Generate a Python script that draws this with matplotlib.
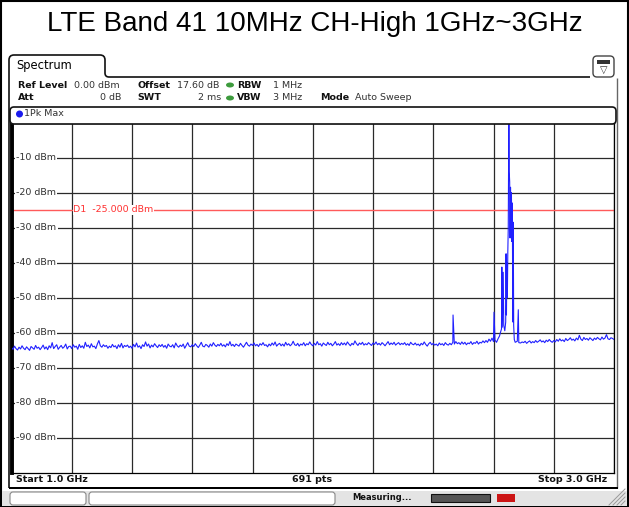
import numpy as np
import matplotlib
matplotlib.use("Agg")
import matplotlib.pyplot as plt
from matplotlib.patches import FancyBboxPatch, Rectangle, Ellipse, PathPatch
from matplotlib.path import Path
from matplotlib.transforms import Affine2D

# sweep settings shown on the analyzer
start_ghz = 1.0
stop_ghz = 3.0
display_line = -25.0
y_ticks = [-10, -20, -30, -40, -50, -60, -70, -80, -90]
x_grid = [1.0, 1.2, 1.4, 1.6, 1.8, 2.0, 2.2, 2.4, 2.6, 2.8, 3.0]

# noise floor, one value every 5 MHz from 1.0 to 3.0 GHz
noise_dbm = [
    -64.3, -64.8, -63.9, -64.6, -65.0, -64.2, -64.7, -63.8, -64.5, -64.9, -64.1, -64.6, -65.1, -64.0, -64.4, -64.8, -63.7, -64.5, -64.2, -64.9,
    -64.3, -63.6, -64.7, -64.1, -64.9, -63.8, -64.4, -62.9, -64.6, -64.0, -63.5, -64.8, -64.2, -63.7, -64.5, -64.1, -63.3, -64.7, -64.0, -63.9,
    -64.6, -63.5, -64.2, -63.9, -64.8, -63.4, -64.3, -63.8, -64.5, -62.8, -64.0, -63.6, -64.4, -63.2, -64.1, -63.9, -64.6, -63.3, -62.3, -63.8,
    -64.2, -63.5, -64.0, -63.7, -64.5, -63.9, -64.3, -63.4, -64.1, -63.8, -64.6, -63.5, -64.2, -63.1, -64.4, -63.7, -64.0, -63.6, -64.3, -63.9,
    -64.5, -63.4, -64.1, -63.0, -64.2, -63.8, -64.6, -63.5, -64.0, -62.7, -63.9, -63.3, -64.4, -63.6, -64.1, -63.2, -63.8, -64.3, -63.5, -64.0,
    -63.4, -64.2, -63.7, -64.5, -63.3, -63.9, -64.1, -63.5, -64.4, -63.0, -63.8, -64.2, -63.6, -64.0, -63.3, -64.5, -63.7, -62.9, -63.9, -64.1,
    -63.5, -64.0, -63.2, -63.8, -64.3, -63.6, -62.8, -63.9, -64.1, -63.4, -63.7, -64.2, -63.3, -63.9, -62.9, -63.6, -64.0, -63.4, -63.8, -63.1,
    -63.9, -63.5, -64.1, -63.2, -63.7, -62.6, -63.8, -63.4, -64.0, -63.3, -63.6, -63.9, -63.1, -63.7, -64.2, -63.5, -62.8, -63.6, -63.9, -63.3,
    -63.7, -63.0, -63.8, -63.4, -64.0, -63.2, -63.6, -62.9, -63.7, -63.5, -64.1, -63.3, -63.8, -63.0, -63.6, -62.7, -63.9, -63.4, -63.1, -63.8,
    -63.3, -63.9, -62.8, -63.6, -63.2, -63.8, -63.4, -62.5, -63.5, -63.7, -63.1, -63.9, -63.3, -63.6, -62.9, -63.8, -63.2, -63.5, -62.7, -63.4,
    -63.8, -63.1, -63.6, -62.6, -63.5, -63.2, -63.9, -63.0, -63.4, -63.7, -62.8, -63.5, -63.1, -63.8, -63.3, -62.6, -63.6, -63.2, -63.7, -62.9,
    -63.5, -63.0, -63.6, -62.7, -63.3, -63.8, -63.1, -63.5, -62.4, -63.2, -63.7, -63.0, -63.4, -62.8, -63.6, -63.2, -63.5, -62.9, -63.3, -63.7,
    -63.0, -63.4, -62.7, -63.5, -63.1, -63.6, -62.9, -63.3, -63.8, -63.2, -62.6, -63.5, -63.0, -63.4, -62.8, -63.6, -63.2, -62.9, -63.5, -63.1,
    -63.4, -62.9, -63.6, -63.2, -63.7, -62.8, -63.3, -63.5, -63.0, -63.6, -63.3, -63.8, -63.1, -63.5, -62.7, -63.4, -63.9, -63.2, -62.8, -63.5,
    -63.1, -63.6, -63.3, -63.8, -63.0, -63.5, -63.2, -63.7, -62.9, -63.4, -63.6, -63.1, -63.5, -62.8, -63.3, -62.6, -63.2, -62.9, -63.4, -62.7,
    -63.3, -62.8, -63.5, -63.0, -63.2, -62.6, -63.4, -62.9, -63.1, -62.5, -63.3, -62.8, -63.0, -62.4, -62.9, -62.3, -62.8, -61.9, -62.5, -61.6,
    -62.6, -62.2, -62.8, -61.8, -61.2, -60.5, -59.5, -59.8, -59.2, -59.0, -59.0, -59.0, -59.0, -59.5, -61.0, -62.5, -62.8, -62.6, -63.0, -62.7,
    -62.9, -62.5, -63.1, -62.7, -62.4, -63.0, -62.6, -62.9, -62.3, -62.8, -62.5, -62.1, -62.7, -62.4, -62.9, -62.2, -62.6, -62.0, -62.5, -62.8,
    -62.3, -62.7, -62.0, -62.5, -61.8, -62.4, -62.1, -62.6, -61.7, -62.3, -62.0, -61.5, -62.2, -61.9, -62.4, -61.6, -62.1, -60.8, -61.9, -62.3,
    -61.4, -62.0, -61.7, -62.2, -61.5, -61.9, -62.3, -61.6, -62.0, -61.4, -61.8, -62.1, -61.3, -61.9, -61.6, -60.6, -61.8, -62.0, -61.5, -61.7,
    -62.0,
]

# spurs and the LTE carrier near 2.65 GHz (finer resolution)
spur_ghz = [2.4657, 2.6017,
            2.6200, 2.6230, 2.6265, 2.6277, 2.6290, 2.6323, 2.6340, 2.6375,
            2.6405, 2.6417, 2.6430, 2.6445, 2.6460, 2.6475, 2.6490, 2.6510,
            2.6522, 2.6537, 2.6550, 2.6565, 2.6580, 2.6595, 2.6610, 2.6625,
            2.6640, 2.6655, 2.6670, 2.6690, 2.6720, 2.6790, 2.6823, 2.6840]
spur_dbm = [-55.0, -54.2,
            -61.0, -60.0, -59.0, -41.3, -58.5, -42.8, -58.0, -59.5,
            -57.0, -37.5, -55.0, -40.0, -50.0, -37.0, -30.0, 3.0,
            -14.0, -17.0, -33.0, -18.5, -31.0, -20.0, -34.0, -23.0,
            -57.0, -28.5, -58.0, -62.0, -62.8, -62.5, -53.5, -62.9]

W, H = 629, 507
fig = plt.figure(figsize=(W / 100, H / 100), dpi=100)
fig.patch.set_facecolor("white")
px = Affine2D().scale(1.0 / W, 1.0 / H) + fig.transFigure  # pixel coords, y up


def Y(y):
    return H - y


def txt(x, y, s, **kw):
    kw.setdefault("fontsize", 6.8)
    kw.setdefault("family", "DejaVu Sans")
    kw.setdefault("va", "center")
    kw.setdefault("color", "#222222")
    fig.text(x / W, 1 - y / H, s, **kw)


# title
txt(314.5, 24, "LTE Band 41 10MHz CH-High 1GHz~3GHz", fontsize=20,
    family="Liberation Sans", ha="center", color="black")

# outer border
fig.add_artist(Rectangle((0.8, 0.8), W - 1.6, H - 1.6, transform=px,
                         fill=False, ec="black", lw=1.5))

# tab "Spectrum" and header frame
verts = [(9, Y(488)), (9, Y(60)), (9, Y(55)), (14, Y(55)), (100, Y(55)),
         (105, Y(55)), (105, Y(60)), (105, Y(73)), (105, Y(77)), (109, Y(77)),
         (590, Y(77))]
codes = [Path.MOVETO, Path.LINETO, Path.CURVE3, Path.CURVE3, Path.LINETO,
         Path.CURVE3, Path.CURVE3, Path.LINETO, Path.CURVE3, Path.CURVE3,
         Path.LINETO]
fig.add_artist(PathPatch(Path(verts, codes), transform=px, fill=False,
                         ec="#111111", lw=1.2))
txt(16, 66, "Spectrum", fontsize=8.3, color="black")

# icon at the top right
fig.add_artist(FancyBboxPatch((593, Y(77)), 21, 21, transform=px,
                              boxstyle="round,pad=0,rounding_size=4",
                              fc="white", ec="#444444", lw=1.0))
fig.add_artist(Rectangle((597, Y(64)), 13, 4, transform=px, fc="#333333", ec="none"))
txt(603.5, 70, "\u25bd", fontsize=7, ha="center", color="#333333")
fig.add_artist(Rectangle((617, Y(488)), 0.01, 410, transform=px,
                         fill=False, ec="#666666", lw=1.0))

# measurement settings
for x, y, s in [(18, 85, "Ref Level"), (18, 98, "Att"), (137, 85, "Offset"),
                (137, 98, "SWT"), (237, 85, "RBW"), (237, 98, "VBW"),
                (320, 98, "Mode")]:
    txt(x, y, s, fontweight="bold", color="#111111")
for x, y, s in [(74, 85, "0.00 dBm"), (177, 85, "17.60 dB"), (273, 85, "1 MHz"),
                (273, 98, "3 MHz"), (355, 98, "Auto Sweep")]:
    txt(x, y, s, color="#333333")
txt(121, 98, "0 dB", ha="right", color="#333333")
txt(221, 98, "2 ms", ha="right", color="#333333")
for y in (85, 98):
    fig.add_artist(Ellipse((230, Y(y)), 8, 5, transform=px, fc="#3d9b3d", ec="none"))

# trace label bar
fig.add_artist(FancyBboxPatch((10, Y(124)), 606, 17, transform=px,
                              boxstyle="round,pad=0,rounding_size=4",
                              fc="white", ec="#111111", lw=1.2))
fig.add_artist(Ellipse((19.5, Y(114)), 7, 7, transform=px, fc="#1a1aee", ec="none"))
txt(24, 114, "1Pk Max", color="#333333")

# the diagram itself
ax = fig.add_axes([11.5 / W, (H - 472.5) / H, 602.5 / W, 350 / H])
ax.set_xlim(start_ghz, stop_ghz)
ax.set_ylim(-100, 0)
ax.set_xticks(x_grid)
ax.set_yticks(y_ticks)
ax.tick_params(length=0, labelleft=False, labelbottom=False)
ax.grid(True, color="#2a2a2a", lw=0.9)
for side in ("top", "right", "bottom"):
    ax.spines[side].set_linewidth(0.9)
ax.spines["left"].set_linewidth(2.8)

for v in y_ticks:
    ax.text(0.008, v, f"{v} dBm", transform=ax.get_yaxis_transform(),
            fontsize=6.8, va="center", ha="left", color="#333333",
            bbox=dict(fc="white", ec="none", pad=0.8), zorder=3)

ax.axhline(display_line, color="#ff5a5a", lw=1.0, zorder=2)
ax.text(1.205, display_line, "D1  -25.000 dBm", fontsize=6.8, color="#ff3030",
        va="center", ha="left", bbox=dict(fc="white", ec="none", pad=0.5), zorder=3)

noise_ghz = np.linspace(start_ghz, stop_ghz, len(noise_dbm))
keep = (noise_ghz < 2.618) | (noise_ghz > 2.688)
freq = np.concatenate([noise_ghz[keep], spur_ghz])
level = np.concatenate([np.array(noise_dbm)[keep], spur_dbm])
order = np.argsort(freq)
ax.plot(freq[order], level[order], color="#2020ff", lw=0.8, zorder=4)

# footer of the diagram
txt(16, 480, "Start 1.0 GHz", fontweight="bold", color="#111111")
txt(312, 480, "691 pts", fontweight="bold", ha="center", color="#111111")
txt(607, 480, "Stop 3.0 GHz", fontweight="bold", ha="right", color="#111111")
fig.add_artist(Rectangle((9, Y(489)), 609, 2.2, transform=px, fc="black", ec="none"))

# status bar
fig.add_artist(Rectangle((2, Y(506)), 625, 15.5, transform=px, fc="#e4e4e4", ec="none"))
fig.add_artist(FancyBboxPatch((10, Y(505)), 76, 13, transform=px,
                              boxstyle="round,pad=0,rounding_size=3",
                              fc="white", ec="#888888", lw=0.8))
fig.add_artist(FancyBboxPatch((89, Y(505)), 246, 13, transform=px,
                              boxstyle="round,pad=0,rounding_size=3",
                              fc="white", ec="#888888", lw=0.8))
txt(352, 498, "Measuring...", fontsize=6.0, fontweight="bold", color="#111111")
fig.add_artist(Rectangle((431, Y(502)), 59, 8, transform=px, fc="#555555", ec="#111111", lw=0.8))
fig.add_artist(Rectangle((497, Y(502)), 18, 8, transform=px, fc="#cc1515", ec="none"))
for k in range(4):
    fig.add_artist(Rectangle((609 + 4 * k, Y(505)), 0.01, 0.01, transform=px))
    fig.lines.append(plt.Line2D([(609 + 4 * k) / W, 625 / W],
                                [Y(505) / H, Y(505 - (16 - 4 * k)) / H],
                                transform=fig.transFigure, color="#999999", lw=0.7))

fig.savefig("out.png", dpi=100)
